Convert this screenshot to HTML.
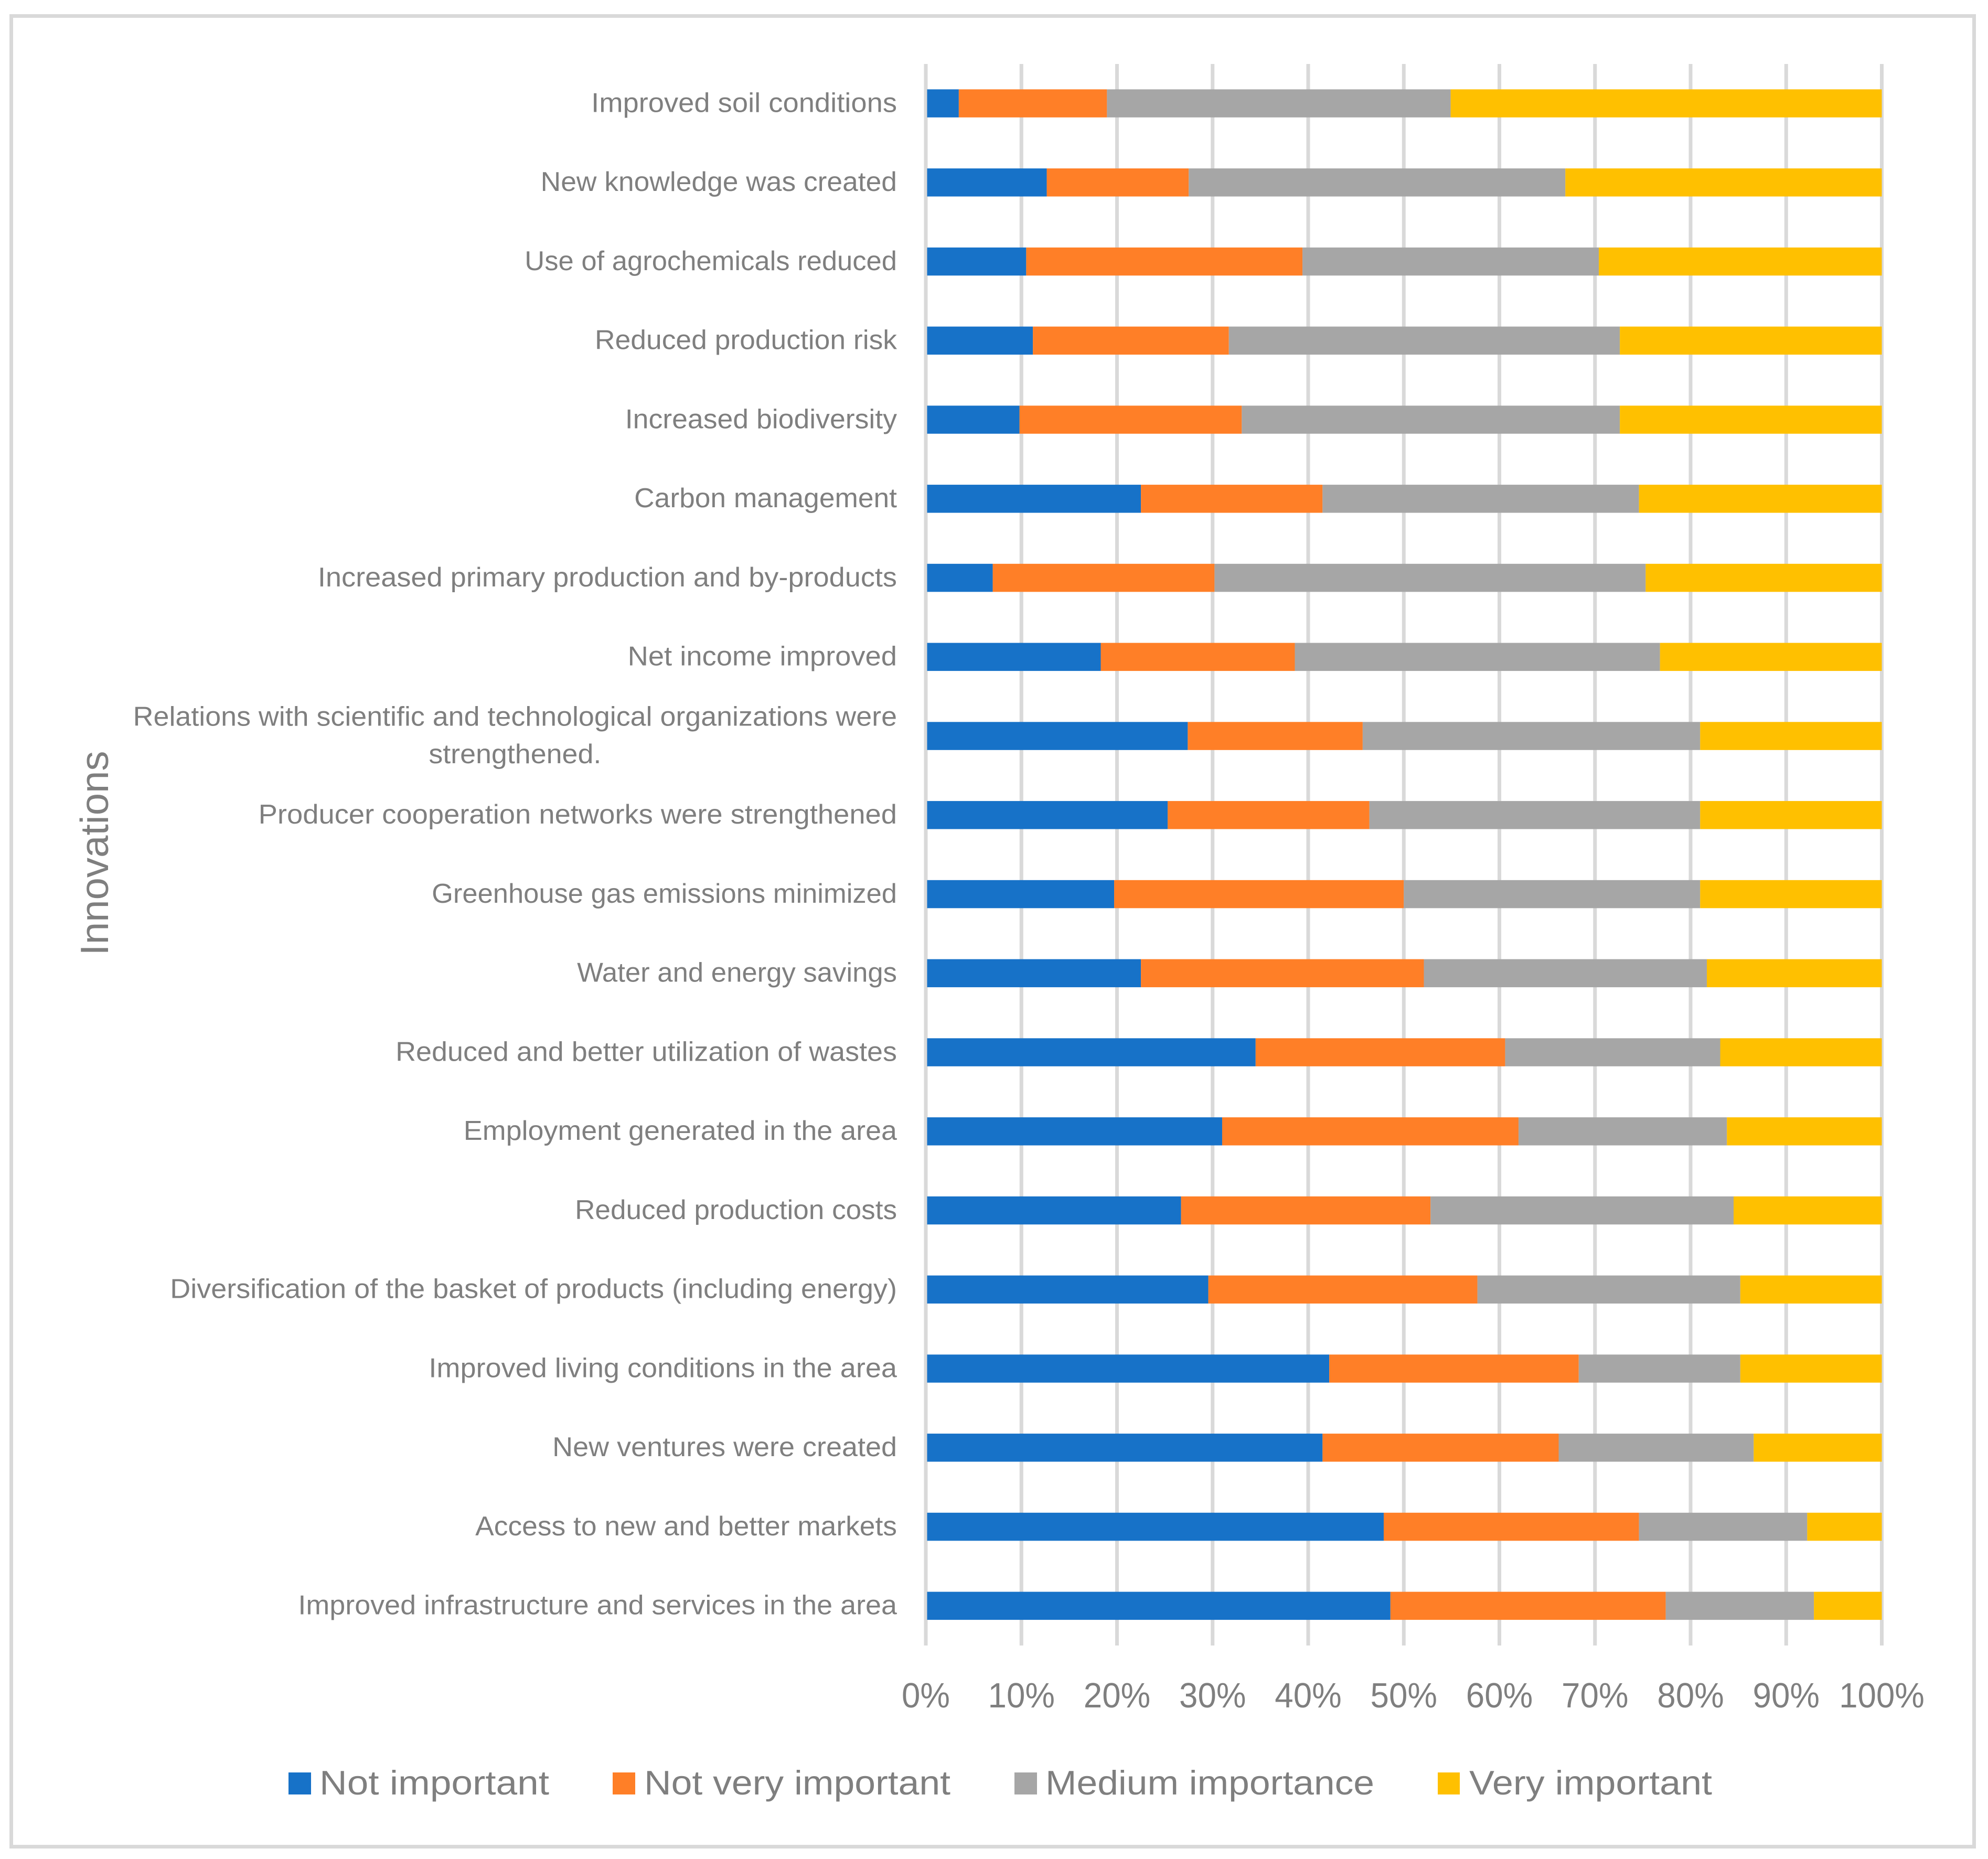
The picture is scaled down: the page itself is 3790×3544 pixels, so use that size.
<!DOCTYPE html>
<html lang="en">
<head>
<meta charset="utf-8">
<title>Innovations importance chart</title>
<style>
  html, body { margin: 0; padding: 0; background: #fff; }
  svg { display: block; }
  text { font-family: "Liberation Sans", sans-serif; fill: #7f7f7f; }
</style>
</head>
<body>
<svg id="chart" xmlns="http://www.w3.org/2000/svg" width="3790" height="3544" viewBox="0 0 3790 3544">
  <rect x="0" y="0" width="3790" height="3544" fill="#ffffff"/>
  <rect x="21.5" y="30.5" width="3742" height="3490" fill="none" stroke="#d9d9d9" stroke-width="7"/>
  <g id="grid"></g>
  <g id="bars"></g>
  <g id="ylabels"></g>
  <g id="xlabels"></g>
  <text transform="translate(206,1626.5) rotate(-90)" text-anchor="middle" font-size="75" textLength="390" lengthAdjust="spacingAndGlyphs">Innovations</text>
  <g>
    <g>
      <rect x="550" y="3379" width="43" height="42" fill="#1772c8"/>
      <text x="609" y="3421" font-size="65" textLength="438" lengthAdjust="spacingAndGlyphs">Not important</text>
    </g>
    <g>
      <rect x="1168" y="3379" width="43" height="42" fill="#ff7f27"/>
      <text x="1228" y="3421" font-size="65" textLength="584" lengthAdjust="spacingAndGlyphs">Not very important</text>
    </g>
    <g>
      <rect x="1934" y="3379" width="43" height="42" fill="#a6a6a6"/>
      <text x="1993" y="3421" font-size="65" textLength="627" lengthAdjust="spacingAndGlyphs">Medium importance</text>
    </g>
    <g>
      <rect x="2741" y="3379" width="42" height="42" fill="#ffc000"/>
      <text x="2801" y="3421" font-size="65" textLength="463" lengthAdjust="spacingAndGlyphs">Very important</text>
    </g>
  </g>
</svg>
<script>
const categories = [
  "Improved soil conditions",
  "New knowledge was created",
  "Use of agrochemicals reduced",
  "Reduced production risk",
  "Increased biodiversity",
  "Carbon management",
  "Increased primary production and by-products",
  "Net income improved",
  "Relations with scientific and technological organizations were\nstrengthened.",
  "Producer cooperation networks were strengthened",
  "Greenhouse gas emissions minimized",
  "Water and energy savings",
  "Reduced and better utilization of wastes",
  "Employment generated in the area",
  "Reduced production costs",
  "Diversification of the basket of products (including energy)",
  "Improved living conditions in the area",
  "New ventures were created",
  "Access to new and better markets",
  "Improved infrastructure and services in the area"
];
const notImportant = [3.45,12.65,10.5,11.2,9.8,22.5,7.0,18.3,27.4,25.3,19.7,22.5,34.5,31.0,26.7,29.55,42.2,41.5,47.9,48.6];
const notVeryImportant = [15.5,14.85,28.9,20.5,23.25,19.0,23.2,20.3,18.3,21.1,30.3,29.6,26.1,31.0,26.1,28.15,26.1,24.7,26.7,28.8];
const mediumImportance = [35.95,39.4,31.0,40.9,39.55,33.1,45.1,38.2,35.3,34.6,31.0,29.6,22.5,21.8,31.7,27.5,16.9,20.4,17.6,15.5];
const veryImportant = [45.1,33.1,29.6,27.4,27.4,25.4,24.7,23.2,19.0,19.0,19.0,18.3,16.9,16.2,15.5,14.8,14.8,13.4,7.8,7.1];
const tickValues = [0,10,20,30,40,50,60,70,80,90,100];

const SVGNS = "http://www.w3.org/2000/svg";
const plotLeft = 1765, plotRight = 3587.5, plotTop = 122, plotBottom = 3137;
const barHeight = 53.5;
const labelRight = 1710;
const labelStretch = 1.045;
const tickStretch = 0.95;
/* Per-label horizontal fit: Liberation glyph widths vs. the reference typeface. */
const labelFit = [1,0.982,0.967,0.983,0.986,0.981,0.996,1,0.99,1,0.966,0.969,0.992,0.991,0.977,0.993,0.995,0.993,0.982,0.992];

function xScale(p) { return plotLeft + (plotRight - plotLeft) * p / 100; }
function yBand(i) { return plotTop + (i + 0.5) * (plotBottom - plotTop) / categories.length; }

function svgEl(tag, attrs) {
  const el = document.createElementNS(SVGNS, tag);
  for (const k in attrs) el.setAttribute(k, attrs[k]);
  return el;
}
function fitText(el, factor) {
  const w = el.getComputedTextLength();
  el.setAttribute("textLength", (w * factor).toFixed(1));
  el.setAttribute("lengthAdjust", "spacingAndGlyphs");
  return w * factor;
}

const gridG = document.getElementById("grid");
const barsG = document.getElementById("bars");
const ylabelsG = document.getElementById("ylabels");
const xlabelsG = document.getElementById("xlabels");

tickValues.forEach(function (t) {
  const x = xScale(t);
  const line = svgEl("rect", { x: x - 3.5, y: plotTop, width: 7, height: plotBottom - plotTop, fill: "#d9d9d9" });
  
  
  gridG.appendChild(line);

  const label = svgEl("text", { x: x, y: 3255, "text-anchor": "middle", "font-size": 67 });
  
  
  label.textContent = t + "%";
  xlabelsG.appendChild(label);
  fitText(label, tickStretch);
});

const seriesList = [notImportant, notVeryImportant, mediumImportance, veryImportant];
const seriesColors = ["#1772c8", "#ff7f27", "#a6a6a6", "#ffc000"];
const seriesKeys = ["not-important", "not-very-important", "medium-importance", "very-important"];

categories.forEach(function (cat, i) {
  const cy = yBand(i);
  const total = seriesList.reduce(function (s, arr) { return s + arr[i]; }, 0);
  let cum = 0;
  seriesList.forEach(function (arr, s) {
    const x0 = xScale(cum / total * 100);
    cum += arr[i];
    const x1 = xScale(cum / total * 100);
    const bar = svgEl("rect", { x: x0, y: cy - 0.3 - barHeight / 2, width: x1 - x0, height: barHeight, fill: seriesColors[s] });
    
    
    barsG.appendChild(bar);
  });

  const lines = cat.split("\n");
  let firstWidth = 0;
  lines.forEach(function (ln, k) {
    const y = cy + 16 + (k - (lines.length - 1) / 2) * 71.5;
    const t = svgEl("text", { x: labelRight, y: y, "text-anchor": "end", "font-size": 52 });
    
    
    t.textContent = ln;
    ylabelsG.appendChild(t);
    const w = fitText(t, labelStretch * labelFit[i]);
    if (k === 0) {
      firstWidth = w;
    } else {
      t.setAttribute("text-anchor", "middle");
      t.setAttribute("x", labelRight - firstWidth / 2);
    }
  });
});

const axisLine = svgEl("rect", { x: plotLeft - 3.5, y: plotTop, width: 6, height: plotBottom - plotTop, fill: "#d9d9d9" });


barsG.appendChild(axisLine);
</script>
</body>
</html>
